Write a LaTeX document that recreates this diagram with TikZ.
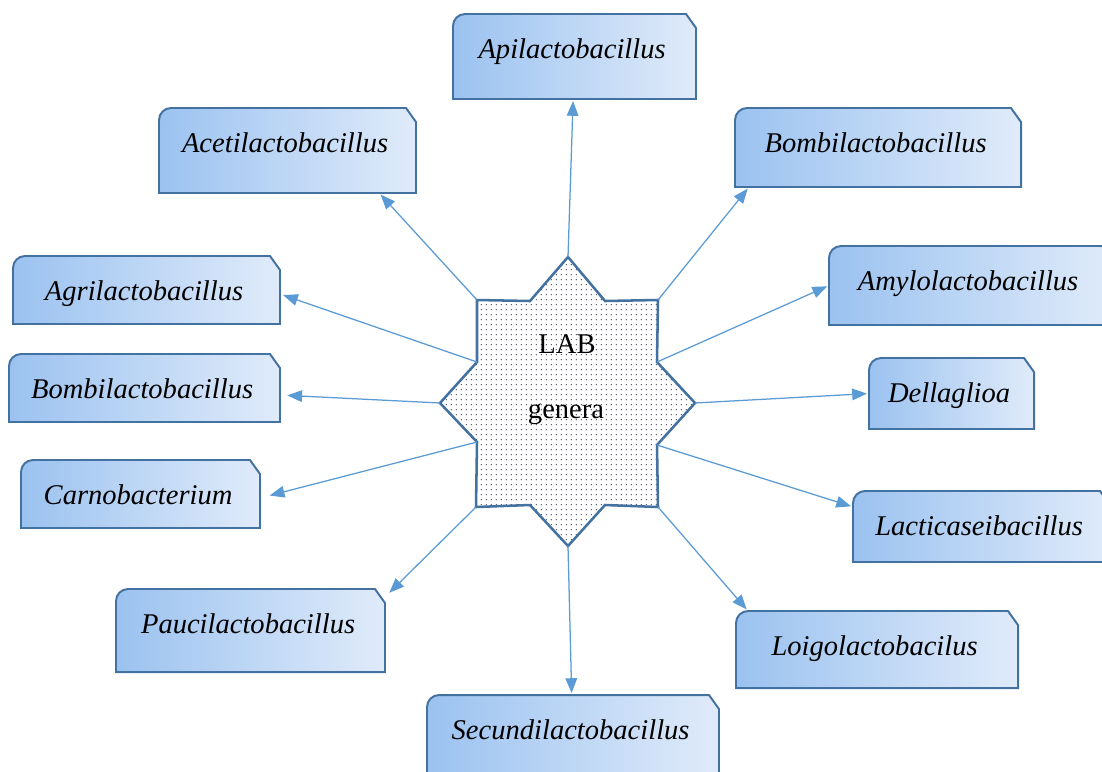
\documentclass[tikz,border=0pt]{standalone}
\usepackage{fontspec}
\setmainfont{Liberation Serif}
\usetikzlibrary{arrows.meta,fit,patterns.meta}
\definecolor{boxleft}{RGB}{155,194,240}
\definecolor{boxright}{RGB}{224,235,250}
\definecolor{frameblue}{RGB}{68,114,160}
\definecolor{linkblue}{RGB}{91,155,213}
\definecolor{dotgray}{RGB}{75,82,100}

% sparse dots for the star
\tikzdeclarepattern{name=stardots, type=uncolored,
  bounding box={(0pt,0pt) and (3.4pt,3.4pt)}, tile size={(3.4pt,3.4pt)},
  code={\fill (1.7pt,1.7pt) circle (0.5pt);}}

% box with a rounded top left corner and a cut top right corner
\newcommand{\genusbox}[4]{%
  \node[genfit, fit={#2 #3}] (#1) {};
  \draw[genframe] (#1.south west) -- ([yshift=-0.3cm]#1.north west)
    arc[start angle=180, end angle=90, radius=0.3cm]
    -- ([xshift=-0.25cm]#1.north east) -- ([yshift=-0.35cm]#1.north east)
    -- (#1.south east) -- cycle;
  \node[genname] (#1-name) at (#1.north) {#4};
}

\begin{document}
\begin{tikzpicture}[x=0.025cm, y=-0.025cm,
    genfit/.style={inner sep=0pt, outer sep=0pt},
    genframe/.style={draw=frameblue, line width=1.4pt, left color=boxleft, right color=boxright},
    genname/.style={anchor=base, yshift=-1.1cm, xshift=-0.06cm, font=\fontsize{20.3pt}{24pt}\selectfont\itshape},
    labtext/.style={anchor=base, font=\fontsize{20.3pt}{24pt}\selectfont},
    link/.style={draw=linkblue, line width=0.9pt, -{Triangle[length=0.37cm, width=0.29cm]}, shorten >=0.05cm}]
    \useasboundingbox (0,0) rectangle (1102,771);
    \clip (0,0) rectangle (1102,771);

    % the genera
    \genusbox{api}{(453,14)}{(696,99)}{Apilactobacillus}
    \genusbox{aceti}{(159,108)}{(416,193)}{Acetilactobacillus}
    \genusbox{bombiR}{(735,108)}{(1021,187)}{Bombilactobacillus}
    \genusbox{amylo}{(829,246)}{(1112,325)}{Amylolactobacillus}
    \genusbox{agri}{(13,256)}{(280,324)}{Agrilactobacillus}
    \genusbox{bombiL}{(9,354)}{(280,422)}{Bombilactobacillus}
    \genusbox{della}{(869,358)}{(1034,429)}{Dellaglioa}
    \genusbox{carno}{(21,460)}{(260,528)}{Carnobacterium}
    \genusbox{lacti}{(853,491)}{(1110,562)}{Lacticaseibacillus}
    \genusbox{pauci}{(116,589)}{(385,672)}{Paucilactobacillus}
    \genusbox{loigo}{(736,611)}{(1018,688)}{Loigolactobacilus}
    \genusbox{secundi}{(427,695)}{(719,800)}{Secundilactobacillus}

    % the star
    \coordinate (tipN) at (568,257);
    \coordinate (notchNNE) at (605,301);
    \coordinate (cornerNE) at (658,300);
    \coordinate (notchENE) at (657,362);
    \coordinate (tipE) at (695,403);
    \coordinate (notchESE) at (657,445);
    \coordinate (cornerSE) at (658,507);
    \coordinate (notchSSE) at (605,505);
    \coordinate (tipS) at (568,546);
    \coordinate (notchSSW) at (530,505);
    \coordinate (cornerSW) at (476,507);
    \coordinate (notchWSW) at (477,442);
    \coordinate (tipW) at (440,403);
    \coordinate (notchWNW) at (477,362);
    \coordinate (cornerNW) at (477,300);
    \coordinate (notchNNW) at (530,301);
    \draw[draw=frameblue, line width=1.8pt, pattern=stardots, pattern color=dotgray, line join=miter]
        (tipN) -- (notchNNE) -- (cornerNE) -- (notchENE) -- (tipE) -- (notchESE) -- (cornerSE) -- (notchSSE)
        -- (tipS) -- (notchSSW) -- (cornerSW) -- (notchWSW) -- (tipW) -- (notchWNW) -- (cornerNW) -- (notchNNW) -- cycle;
    \node[labtext] (lab) at (567,353) {LAB};
    \node[labtext] (genera) at (566,418) {genera};

    % arrows
    \draw[link] (tipN) -- (api);
    \draw[link] (cornerNW) -- ([xshift=-0.92cm]aceti.south east);
    \draw[link] (cornerNE) -- ([xshift=0.35cm]bombiR.south west);
    \draw[link] (notchENE) -- (amylo.west);
    \draw[link] (tipE) -- (della.west);
    \draw[link] (notchESE) -- ([yshift=0.49cm]lacti.west);
    \draw[link] (cornerSE) -- ([xshift=0.3cm]loigo.north west);
    \draw[link] (tipS) -- (secundi);
    \draw[link, shorten >=0.15cm] (cornerSW) -- ([yshift=-0.2cm]pauci.north east);
    \draw[link, shorten >=0.25cm] (notchWSW) -- ([yshift=-0.1cm]carno.east);
    \draw[link, shorten >=0.18cm] (tipW) -- ([yshift=-0.175cm]bombiL.east);
    \draw[link, shorten >=0.08cm] (notchWNW) -- ([yshift=-0.1cm]agri.east);
\end{tikzpicture}
\end{document}
